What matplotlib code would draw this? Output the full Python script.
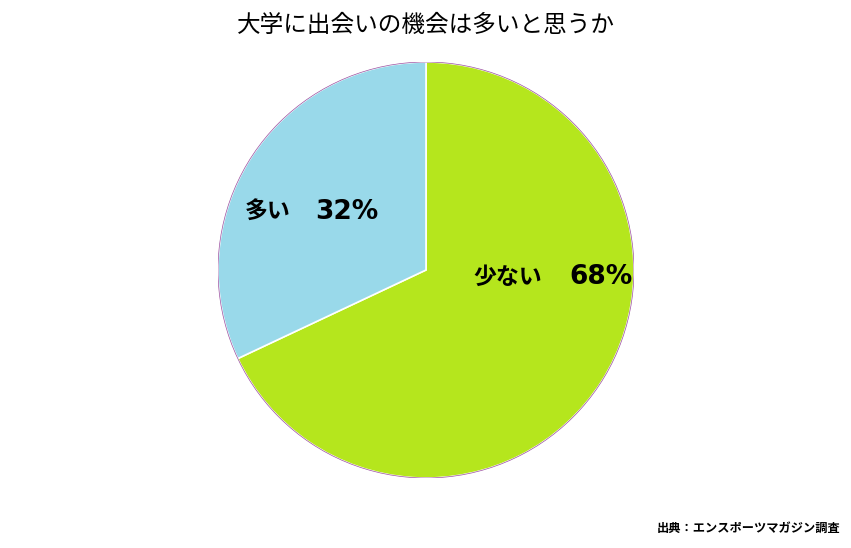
import matplotlib.pyplot as plt

plt.rcParams['font.family'] = ['Noto Sans CJK JP', 'DejaVu Sans']

# data
labels = ['少ない', '多い']
values = [68, 32]
colors = ['#B5E61D', '#99D9EA']
title = '大学に出会いの機会は多いと思うか'
source = '出典：エンスポーツマガジン調査'

fig = plt.figure(figsize=(8.51, 5.48), dpi=100)

# circle centre (426, 270) px, radius 208 px
cx, cy, r = 426, 270, 208
ax = fig.add_axes([(cx - r) / 851, (548 - cy - r) / 548, 2 * r / 851, 2 * r / 548])

wedges, _ = ax.pie(values, colors=colors, startangle=90, counterclock=False,
                   radius=1.0, wedgeprops=dict(edgecolor='white', linewidth=1.2))
# thin purple rim like the original
rim = plt.matplotlib.patches.Circle((0, 0), 1.0, fill=False, edgecolor='#9B4FA0', linewidth=0.5)
ax.add_patch(rim)
ax.set_xlim(-1, 1)
ax.set_ylim(-1, 1)
ax.set_aspect('equal')
ax.axis('off')

# labels: name on the left, percentage on the right
label_pos = [(0.23, 0.995, -0.034), (-0.87, -0.23, 0.28)]
for (x0, x1, y), name, v in zip(label_pos, labels, values):
    ax.text(x0, y, name, ha='left', va='center', fontsize=16.5, fontweight='bold')
    ax.text(x1, y, f'{v}%', ha='right', va='center', fontsize=19, fontweight='bold',
            family=['DejaVu Sans'])

fig.text(426 / 851, 1 - 25 / 548, title, ha='center', va='center', fontsize=17)
fig.text(840 / 851, 1 - 528 / 548, source, ha='right', va='center', fontsize=8.8,
         fontweight='bold')

fig.savefig('out.png', dpi=100)
